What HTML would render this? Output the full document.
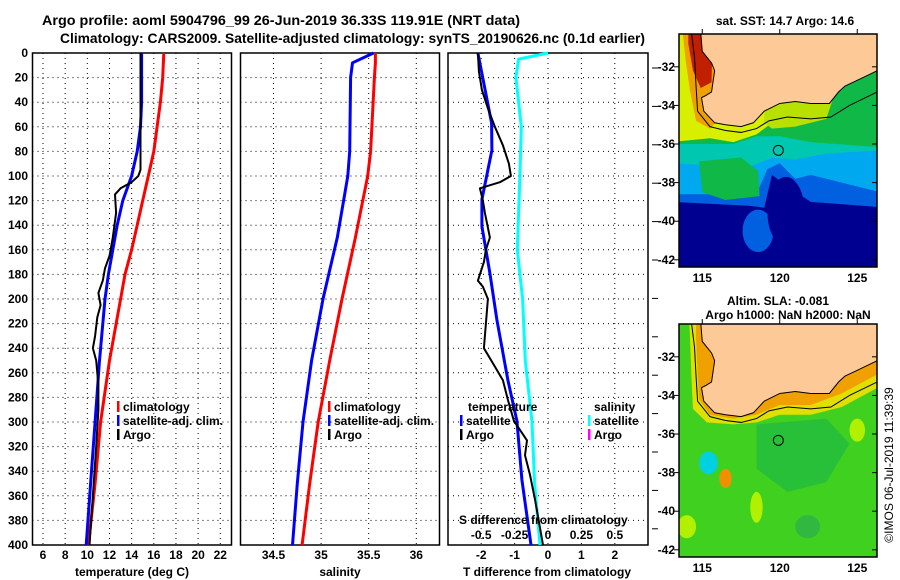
<!DOCTYPE html>
<html><head><meta charset="utf-8"><style>
html,body{margin:0;padding:0;background:#fff;}
svg{display:block;font-family:"Liberation Sans",sans-serif;}
.t{font-size:12px;font-weight:bold;fill:#000;}
</style></head><body>
<svg id="fig" width="900" height="580" viewBox="0 0 900 580" xmlns="http://www.w3.org/2000/svg">
<text x="42" y="25" font-size="14" font-weight="bold" textLength="478" lengthAdjust="spacingAndGlyphs">Argo profile: aoml 5904796_99 26-Jun-2019 36.33S 119.91E (NRT data)</text>
<text x="60" y="43" font-size="14" font-weight="bold" textLength="585" lengthAdjust="spacingAndGlyphs">Climatology: CARS2009. Satellite-adjusted climatology: synTS_20190626.nc (0.1d earlier)</text>
<g id="p1"></g>
<g id="p2"></g>
<g id="p3"></g>
<g id="m1"></g>
<g id="m2"></g>
<text class="t" x="785" y="25" text-anchor="middle">sat. SST: 14.7 Argo: 14.6</text>
<text class="t" x="778" y="305" text-anchor="middle">Altim. SLA: -0.081</text>
<text class="t" x="788" y="319" text-anchor="middle">Argo h1000: NaN h2000: NaN</text>
<text x="893" y="465" font-size="12" style="font-weight:normal" transform="rotate(-90 893 465)" text-anchor="middle">©IMOS 06-Jul-2019 11:39:39</text>
</svg>
<script>
// ---- data ----
const depths1 = [0,20,40,60,80,100,120,140,160,180,200,250,300,350,400];
const tempClim = [16.9,16.8,16.6,16.3,16.0,15.5,15.0,14.5,14.0,13.4,13.0,12.0,11.2,10.7,10.1];
const tempSat  = [14.9,14.9,14.9,14.8,14.5,14.0,13.2,12.7,12.3,11.9,11.6,11.1,10.7,10.3,9.9];
const argoDepth = [0,50,95,100,105,110,115,130,150,165,175,185,195,205,215,230,240,250,270,290,320,360,400];
const argoTemp  = [14.8,14.8,14.8,14.6,14.0,13.0,12.5,12.6,12.3,12.0,11.6,11.4,11.0,11.2,10.9,10.7,10.5,10.8,11.0,11.0,10.8,10.5,10.2];
const salDepth = [0,8,20,80,100,150,200,250,300,350,400];
const salClim  = [35.57,35.57,35.56,35.52,35.49,35.36,35.22,35.09,34.97,34.88,34.80];
const salSat   = [35.55,35.33,35.31,35.30,35.28,35.17,35.02,34.90,34.81,34.75,34.70];
const dDepth = [0,57,79,119,141,179,217,266,299,347,400];
const dTSat  = [-2.10,-1.69,-1.68,-1.98,-1.98,-1.74,-1.53,-1.20,-0.93,-0.78,-0.51];
const aDepth = [0,15,30,45,60,75,90,100,105,110,120,130,150,160,170,185,190,200,210,240,255,266,282,299,315,327,343,363,400];
const dTArgo = [-2.10,-2.07,-1.98,-1.80,-1.59,-1.35,-1.17,-1.11,-1.44,-2.04,-1.95,-1.89,-1.74,-1.86,-1.92,-2.10,-1.95,-1.80,-1.83,-1.92,-1.59,-1.35,-1.20,-1.02,-0.63,-0.69,-0.54,-0.39,-0.15];
const sDepth = [0,5,20,60,100,130,160,200,250,300,350,400];
const dSSat  = [0.0,-0.22,-0.24,-0.20,-0.21,-0.22,-0.23,-0.19,-0.17,-0.12,-0.10,-0.06];
const depthTicks = [0,20,40,60,80,100,120,140,160,180,200,220,240,260,280,300,320,340,360,380,400];
const tTicks = [6,8,10,12,14,16,18,20,22];
const sTicks = [34.5,35,35.5,36];
const dTicks = [-2,-1,0,1,2];
const dsTicks = [-0.5,-0.25,0,0.25,0.5];
const dsLabels = ['-0.5','-0.25','0','0.25','0.5'];

const NS='http://www.w3.org/2000/svg';
function mk(parent,tag,attrs,text){const e=document.createElementNS(NS,tag);for(const k in attrs)e.setAttribute(k,attrs[k]);if(text!==undefined)e.textContent=text;parent.appendChild(e);return e;}
const Y0=53,Y1=545;
const yD=d=>Y0+(Y1-Y0)*d/400;

function frame(g,x0,x1,name){
  const r=mk(g,'rect',{x:x0,y:Y0,width:x1-x0,height:Y1-Y0,fill:'none',stroke:'#000','stroke-width':1.5});
  
  
  depthTicks.forEach(d=>{ if(d>0&&d<400){ const l=mk(g,'line',{x1:x0,x2:x1,y1:yD(d),y2:yD(d),stroke:'#000','stroke-dasharray':'1,4'});
    
    }});
}
function vgrid(g,xs,name){xs.forEach(x=>{const l=mk(g,'line',{x1:x,x2:x,y1:Y0,y2:Y1,stroke:'#000','stroke-dasharray':'1,4'});
  
  });}
function line(g,xs,ds,xf,color,w,name){
  const pts=xs.map((v,i)=>xf(v).toFixed(1)+','+yD(ds[i]).toFixed(1)).join(' ');
  const p=mk(g,'polyline',{points:pts,fill:'none',stroke:color,'stroke-width':w,'stroke-linejoin':'round'});
  
  
}
function txt(g,x,y,s,name,anchor,color){const t=mk(g,'text',{x:x,y:y,class:'t','text-anchor':anchor||'start',fill:color||'#000'},s);
  
  return t;}
function legend(g,x,y,color,label,name){
  const b=mk(g,'rect',{x:x,y:y-10,width:2.5,height:11,fill:color});
  
  
  txt(g,x+6,y,label,name+'-label');
}

// Panel 1
const p1=document.getElementById('p1');
const xT=t=>43+(t-6)*11.08;
frame(p1,32.5,231.5,'temperature');
vgrid(p1,tTicks.map(xT),'temperature-gridline');
depthTicks.forEach(d=>txt(p1,28,yD(d)+4,String(d),'depth-tick-label','end'));
tTicks.forEach(t=>txt(p1,xT(t),559,String(t),'temperature-tick-label','middle'));
txt(p1,132,576,'temperature (deg C)','temperature-axis-title','middle');
line(p1,tempClim,depths1,xT,'#ff0000',3,'climatology-temperature-line');
line(p1,tempSat,depths1,xT,'#0000ff',3,'satellite-temperature-line');
line(p1,argoTemp,argoDepth,xT,'#000',2,'argo-temperature-line');
legend(p1,117,411,'#f00','climatology','legend-climatology');
legend(p1,117,425,'#00f','satellite-adj. clim.','legend-satellite');
legend(p1,117,439,'#000','Argo','legend-argo');

// Panel 2
const p2=document.getElementById('p2');
const xS=s=>273.5+(s-34.5)*95.2;
frame(p2,240.5,439.5,'salinity');
vgrid(p2,sTicks.map(xS),'salinity-gridline');
sTicks.forEach(s=>txt(p2,xS(s),559,String(s),'salinity-tick-label','middle'));
txt(p2,340,576,'salinity','salinity-axis-title','middle');
line(p2,salClim,salDepth,xS,'#ff0000',3,'climatology-salinity-line');
line(p2,salSat,salDepth,xS,'#0000ff',3,'satellite-salinity-line');
legend(p2,328,411,'#f00','climatology','legend-climatology-sal');
legend(p2,328,425,'#00f','satellite-adj. clim.','legend-satellite-sal');
legend(p2,328,439,'#000','Argo','legend-argo-sal');

// Panel 3
const p3=document.getElementById('p3');
const xD=d=>548+d*33.4;
const xDS=s=>548+s*133.6;
frame(p3,448,648,'difference');
vgrid(p3,dTicks.map(xD),'difference-gridline');
dTicks.forEach(d=>txt(p3,xD(d),559,String(d),'t-diff-tick-label','middle'));
txt(p3,547,576,'T difference from climatology','t-diff-axis-title','middle');
for(let y=68;y<560;y+=38.4){const l=mk(p3,'line',{x1:652,x2:658,y1:y,y2:y,stroke:'#000'});
  
  }
line(p3,dSSat,sDepth,xDS,'#00ffff',3,'salinity-diff-satellite-line');
line(p3,dTSat,dDepth,xD,'#0000ff',3,'temperature-diff-satellite-line');
line(p3,dTArgo,aDepth,xD,'#000',2,'temperature-diff-argo-line');
txt(p3,468,411,'temperature','legend-temperature-heading');
legend(p3,460,425,'#00f','satellite','legend-t-satellite');
legend(p3,460,439,'#000','Argo','legend-t-argo');
txt(p3,594,411,'salinity','legend-salinity-heading');
legend(p3,588,425,'#00ffff','satellite','legend-s-satellite');
legend(p3,588,439,'#ff00ff','Argo','legend-s-argo');
txt(p3,459,524,'S difference from climatology','s-diff-axis-title');
dsTicks.forEach((s,i)=>txt(p3,xDS(s),539,dsLabels[i],'s-diff-tick-label','middle'));

// Maps
const LON0=113.5, MX0=679, MX1=877, PXLON=15.5, PXLAT=19.3;
const coast=[[114.9,-30.2],[115.0,-31.2],[115.6,-31.8],[115.8,-32.2],[115.6,-33.3],[115.2,-33.5],[114.95,-33.6],[115.1,-34.3],[115.8,-34.9],[116.5,-35.0],[117.5,-35.1],[118.3,-34.9],[119.0,-34.3],[120,-33.9],[121,-33.8],[122,-33.9],[123.2,-33.9],[123.8,-33.3],[124.2,-33.0],[125,-32.7],[126.3,-32.2]];
const iso=[[114.3,-30.2],[114.5,-31.5],[114.6,-33.0],[114.7,-34.3],[115.5,-35.1],[116.5,-35.3],[117.5,-35.4],[118.5,-35.2],[119.3,-34.8],[120.5,-34.6],[122,-34.7],[123.3,-34.6],[124.5,-34.0],[126.3,-33.3]];
function drawMap(id,top,bottom,latTop,layers,blobs){
  const g=document.getElementById(id);
  const X=l=>MX0+(l-LON0)*PXLON, Y=la=>top+(latTop-la)*PXLAT;
  const clipId=id+'clip';
  const cp=mk(mk(g,'defs',{}),'clipPath',{id:clipId});
  mk(cp,'rect',{x:MX0,y:top,width:MX1-MX0,height:bottom-top});
  const inner=mk(g,'g',{'clip-path':'url(#'+clipId+')'});
  layers.forEach(([c,poly])=>{const p=mk(inner,'polygon',{points:poly.map(q=>X(q[0])+','+Y(q[1])).join(' '),fill:c});
    
    });
  (blobs||[]).forEach(([c,lo,la,rx,ry])=>{const e=mk(inner,'ellipse',{cx:X(lo),cy:Y(la),rx:rx*PXLON,ry:ry*PXLAT,fill:c});
    
    });
  const land=coast.concat([[127,-32.2],[127,-29],[114.9,-29]]);
  const lp=mk(inner,'polygon',{points:land.map(q=>X(q[0])+','+Y(q[1])).join(' '),fill:'#fdc996'});
  
  
  const cl=mk(inner,'polyline',{points:coast.map(q=>X(q[0])+','+Y(q[1])).join(' '),fill:'none',stroke:'#000','stroke-width':1});
  
  
  const il=mk(inner,'polyline',{points:iso.map(q=>X(q[0])+','+Y(q[1])).join(' '),fill:'none',stroke:'#000','stroke-width':1});
  
  
  const fr=mk(g,'rect',{x:MX0,y:top,width:MX1-MX0,height:bottom-top,fill:'none',stroke:'#000','stroke-width':1.5});
  
  
  const mk1=mk(g,'circle',{cx:X(119.91),cy:Y(-36.33),r:5,fill:'none',stroke:'#000','stroke-width':1});
  
  
  [-32,-34,-36,-38,-40,-42].forEach(la=>{
    const t=mk(g,'line',{x1:MX0-5,x2:MX0,y1:Y(la),y2:Y(la),stroke:'#000'});
    
    
    const t2=mk(g,'line',{x1:MX1-5,x2:MX1,y1:Y(la),y2:Y(la),stroke:'#000'});
    
    
    txt(g,MX0-4,Y(la)+4,String(la),'lat-tick-label','end');});
  [115,120,125].forEach(lo=>{
    const t=mk(g,'line',{x1:X(lo),x2:X(lo),y1:top-5,y2:top,stroke:'#000'});
    
    
    txt(g,X(lo),bottom+15,String(lo),'lon-tick-label','middle');});
}
const W=113, E=127;
drawMap('m1',34,267,-30.3,[
  ['#000090',[[W,-29],[E,-29],[E,-43],[W,-43]]],
  ['#0060e0',[[W,-29],[E,-29],[E,-39.3],[122,-39.0],[120.5,-38.2],[119.5,-37.6],[119,-39.3],[118,-39.2],[W,-39.0]]],
  ['#00a8f0',[[W,-29],[E,-29],[E,-38.6],[124,-38.0],[122,-37.6],[121,-37.8],[120,-37.0],[119.2,-37.3],[118.5,-38.6],[W,-38.6]]],
  ['#00c8b0',[[W,-29],[E,-29],[E,-36.3],[123,-36.5],[121,-36.8],[119.5,-36.7],[118,-37.2],[W,-37.0]]],
  ['#10b848',[[W,-29],[E,-29],[E,-36.2],[122,-35.9],[120,-35.6],[118.5,-35.6],[117,-36.0],[W,-36.0]]],
  ['#d8f000',[[W,-29],[119.5,-29],[119.5,-34.9],[118.5,-35.5],[117,-35.9],[115.5,-35.7],[W,-35.9]]],
  ['#b8e000',[[119,-33.5],[123.5,-33.5],[123,-34.7],[121,-35.1],[119.5,-35.2],[119,-34.9]]],
  ['#f0a000',[[W,-29],[116,-29],[116,-34.8],[115.5,-35.2],[114.6,-34.8],[114.2,-33.2],[113.9,-31.5],[113.6,-29]]],
  ['#c02000',[[114.1,-29],[115.7,-29],[115.6,-32.8],[114.9,-33.1],[114.4,-32.2],[114.1,-30.8]]],
  ['#10b848',[[114.8,-36.9],[117.5,-36.7],[118.6,-37.4],[118.7,-38.7],[116.5,-38.9],[115.0,-38.5]]]
],[['#0060e0',118.6,-40.5,1.0,1.1],['#000090',120.4,-39.5,1.2,1.8]]);
drawMap('m2',324,557,-30.3,[
  ['#40d020',[[W,-29],[E,-29],[E,-43],[W,-43]]],
  ['#28c038',[[118.5,-35.5],[123,-35.2],[124.5,-36.5],[123,-38.5],[120.5,-39],[118.5,-37.8]]],
  ['#e0e000',[[W,-29],[E,-29],[E,-33.3],[124,-34.6],[122,-35.0],[120,-35.0],[118.5,-35.4],[117,-35.5],[115.3,-35.4],[114.4,-34.7],[114.3,-33.0],[114.2,-30.8],[114.1,-29]]],
  ['#f0a000',[[114.6,-29],[E,-29],[E,-32.6],[124,-33.9],[122,-34.5],[120,-34.5],[118.5,-35.0],[117,-35.2],[115.5,-35.0],[114.8,-34.2],[114.7,-32.8],[114.6,-31]]]
],[['#00d0e0',115.4,-37.5,0.6,0.6],['#f09000',116.5,-38.3,0.4,0.5],['#b0f000',125.0,-35.8,0.5,0.6],['#b0f000',114.0,-40.8,0.6,0.6],['#30b840',121.8,-40.8,0.8,0.6],['#b0f000',118.5,-39.8,0.4,0.8]]);
</script>
</body></html>
